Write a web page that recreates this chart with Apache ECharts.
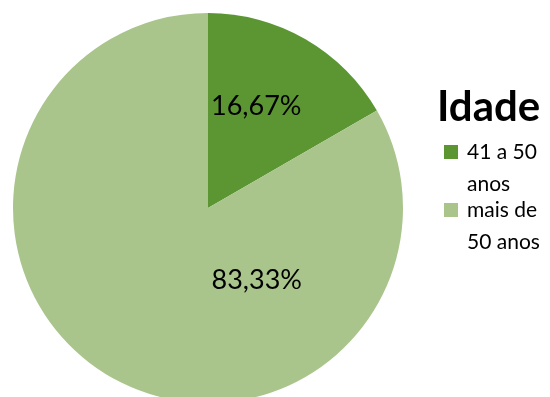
<!DOCTYPE html>
<html>
<head>
<meta charset="utf-8">
<script src="https://cdn.jsdelivr.net/npm/echarts@6/dist/echarts.min.js"></script>
<style>
  html, body { margin: 0; padding: 0; background: #fff; }
  #chart { width: 550px; height: 397px; }
</style>
</head>
<body>
<div id="chart"></div>
<script>
// faixas etarias e percentuais
const categories = ["41 a 50\nanos", "mais de\n50 anos"];
const values = [16.67, 83.33];
const colors = ["#5B9632", "#A9C58B"];
const labelOffsets = [[-2, -15], [99, -15]];

const chart = echarts.init(document.getElementById("chart"));

const option = {
  title: {
    text: "Idade",
    left: 437,
    top: 86,
    padding: 0,
    textStyle: {
      fontFamily: "Lato",
      fontWeight: "bold",
      fontSize: 42,
      color: "#000"
    }
  },
  legend: {
    orient: "vertical",
    left: 444,
    top: 104,
    padding: 0,
    itemWidth: 14,
    itemHeight: 14,
    itemGap: -38,
    icon: "rect",
    data: categories,
    // linha vazia no topo para alinhar a 1a linha com o marcador
    formatter: name => "\n" + name,
    textStyle: {
      fontFamily: "Lato",
      fontSize: 21,
      lineHeight: 32,
      color: "#000",
      padding: [0, 0, 0, 4]
    }
  },
  series: [
    {
      type: "pie",
      center: [208, 208],
      radius: 195,
      startAngle: 90,
      clockwise: true,
      animation: false,
      emphasis: { disabled: true },
      label: {
        position: "inside",
        fontFamily: "Lato",
        fontSize: 27,
        color: "#000",
        formatter: p => p.value.toFixed(2).replace(".", ",") + "%"
      },
      labelLine: { show: false },
      data: categories.map((name, i) => ({
        name: name,
        value: values[i],
        itemStyle: { color: colors[i] },
        label: { offset: labelOffsets[i] }
      }))
    }
  ]
};

chart.setOption(option);
</script>
</body>
</html>
